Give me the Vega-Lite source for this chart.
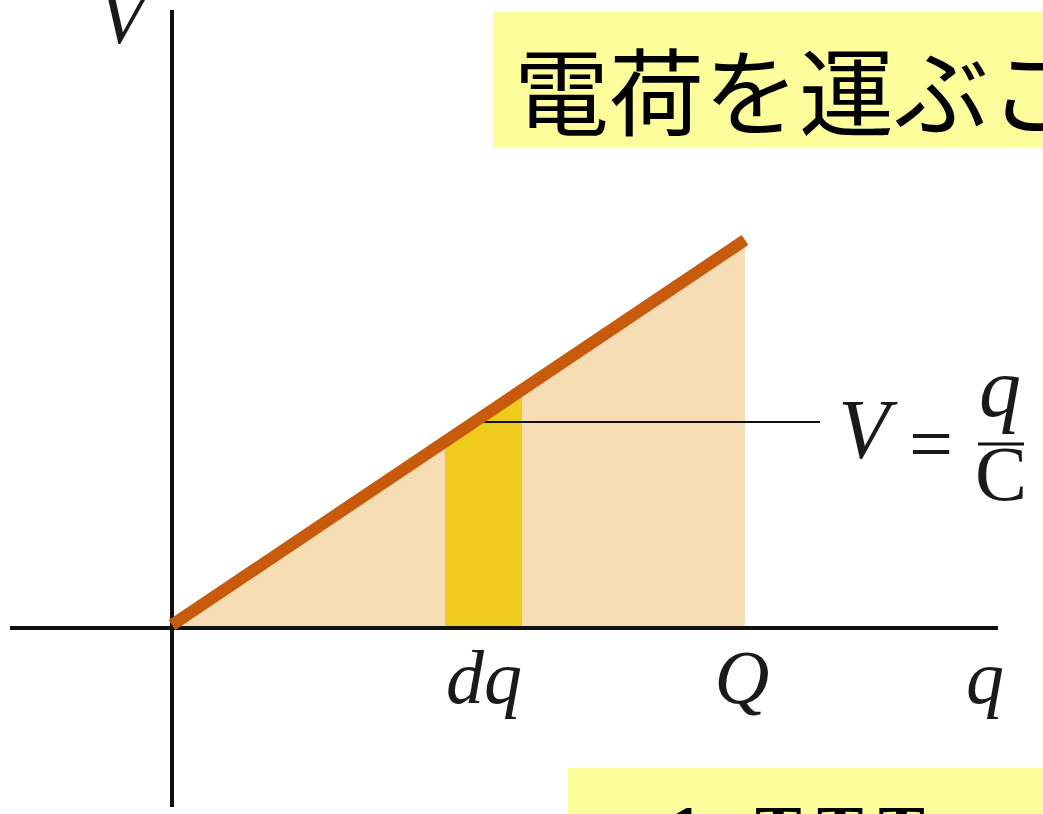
{
  "$schema": "https://vega.github.io/schema/vega-lite/v6.json",
  "width": 1043,
  "height": 814,
  "autosize": "none",
  "padding": 0,
  "background": "white",
  "config": {"view": {"stroke": null}},
  "datasets": {
    "area": [{"q": 0, "v": 0}, {"q": 573, "v": 388}],
    "strip": [{"q": 273, "v": 186.5}, {"q": 350, "v": 238.2}],
    "line": [{"q": 0, "v": 3}, {"q": 573, "v": 388}],
    "axes": [
      {"name": "vaxis", "q": 0, "q2": 0, "v": -179, "v2": 618},
      {"name": "haxis", "q": -162, "q2": 826, "v": 0, "v2": 0}
    ],
    "pointer": [{"q": 306, "q2": 648, "v": 206, "v2": 206}],
    "fracbar": [{"q": 806, "q2": 852, "v": 184, "v2": 184}],
    "boxes": [
      {"name": "top", "q": 321, "q2": 900, "v": 616, "v2": 481},
      {"name": "bottom", "q": 396, "q2": 900, "v": -140, "v2": -260}
    ],
    "labels": [
      {"label": "V", "q": -50, "v": 585},
      {"label": "dq", "q": 312, "v": -75},
      {"label": "Q", "q": 570, "v": -75},
      {"label": "q", "q": 813, "v": -75}
    ],
    "formula": [
      {"label": "V", "q": 692, "v": 170},
      {"label": "q", "q": 828, "v": 212}
    ],
    "upright": [
      {"label": "=", "q": 759, "v": 158},
      {"label": "C", "q": 829, "v": 128}
    ],
    "jp": [{"label": "電荷を運ぶこと", "q": 342, "v": 528}],
    "bottomtext": [
      {"label": "1", "q": 496, "v": -226},
      {"label": "T T T", "q": 583, "v": -226}
    ]
  },
  "layer": [
    {
      "data": {"name": "boxes"},
      "mark": {"type": "rect", "color": "#FEFD9B"},
      "encoding": {
        "x": {"field": "q", "type": "quantitative", "scale": {"domain": [-172, 871], "nice": false, "zero": false}, "axis": null},
        "x2": {"field": "q2"},
        "y": {"field": "v", "type": "quantitative", "scale": {"domain": [-186, 628], "nice": false, "zero": false}, "axis": null},
        "y2": {"field": "v2"}
      }
    },
    {
      "data": {"name": "area"},
      "mark": {"type": "area", "color": "#F7DDB4", "opacity": 1},
      "encoding": {
        "x": {"field": "q", "type": "quantitative", "scale": {"domain": [-172, 871], "nice": false, "zero": false}, "axis": null},
        "y": {"field": "v", "type": "quantitative", "scale": {"domain": [-186, 628], "nice": false, "zero": false}, "axis": null},
        "y2": {"datum": 0}
      }
    },
    {
      "data": {"name": "strip"},
      "mark": {"type": "area", "color": "#EFCB1E", "opacity": 1},
      "encoding": {
        "x": {"field": "q", "type": "quantitative", "scale": {"domain": [-172, 871], "nice": false, "zero": false}, "axis": null},
        "y": {"field": "v", "type": "quantitative", "scale": {"domain": [-186, 628], "nice": false, "zero": false}, "axis": null},
        "y2": {"datum": 0}
      }
    },
    {
      "data": {"name": "axes"},
      "mark": {"type": "rule", "color": "#111111", "strokeWidth": 4},
      "encoding": {
        "x": {"field": "q", "type": "quantitative", "scale": {"domain": [-172, 871], "nice": false, "zero": false}, "axis": null},
        "x2": {"field": "q2"},
        "y": {"field": "v", "type": "quantitative", "scale": {"domain": [-186, 628], "nice": false, "zero": false}, "axis": null},
        "y2": {"field": "v2"}
      }
    },
    {
      "data": {"name": "pointer"},
      "mark": {"type": "rule", "color": "#111111", "strokeWidth": 2},
      "encoding": {
        "x": {"field": "q", "type": "quantitative", "scale": {"domain": [-172, 871], "nice": false, "zero": false}, "axis": null},
        "x2": {"field": "q2"},
        "y": {"field": "v", "type": "quantitative", "scale": {"domain": [-186, 628], "nice": false, "zero": false}, "axis": null},
        "y2": {"field": "v2"}
      }
    },
    {
      "data": {"name": "line"},
      "mark": {"type": "line", "color": "#C85A0C", "strokeWidth": 12, "strokeCap": "butt"},
      "encoding": {
        "x": {"field": "q", "type": "quantitative", "scale": {"domain": [-172, 871], "nice": false, "zero": false}, "axis": null},
        "y": {"field": "v", "type": "quantitative", "scale": {"domain": [-186, 628], "nice": false, "zero": false}, "axis": null}
      }
    },
    {
      "data": {"name": "fracbar"},
      "mark": {"type": "rule", "color": "#111111", "strokeWidth": 3},
      "encoding": {
        "x": {"field": "q", "type": "quantitative", "scale": {"domain": [-172, 871], "nice": false, "zero": false}, "axis": null},
        "x2": {"field": "q2"},
        "y": {"field": "v", "type": "quantitative", "scale": {"domain": [-186, 628], "nice": false, "zero": false}, "axis": null},
        "y2": {"field": "v2"}
      }
    },
    {
      "data": {"name": "labels"},
      "mark": {"type": "text", "font": "Liberation Serif", "fontStyle": "italic", "fontSize": 76, "color": "#1a1a1a", "align": "center", "baseline": "alphabetic"},
      "encoding": {
        "x": {"field": "q", "type": "quantitative", "scale": {"domain": [-172, 871], "nice": false, "zero": false}, "axis": null},
        "y": {"field": "v", "type": "quantitative", "scale": {"domain": [-186, 628], "nice": false, "zero": false}, "axis": null},
        "text": {"field": "label"}
      }
    },
    {
      "data": {"name": "formula"},
      "mark": {"type": "text", "font": "Liberation Serif", "fontStyle": "italic", "fontSize": 84, "color": "#1a1a1a", "align": "center", "baseline": "alphabetic"},
      "encoding": {
        "x": {"field": "q", "type": "quantitative", "scale": {"domain": [-172, 871], "nice": false, "zero": false}, "axis": null},
        "y": {"field": "v", "type": "quantitative", "scale": {"domain": [-186, 628], "nice": false, "zero": false}, "axis": null},
        "text": {"field": "label"}
      }
    },
    {
      "data": {"name": "upright"},
      "mark": {"type": "text", "font": "Liberation Serif", "fontSize": 78, "color": "#1a1a1a", "align": "center", "baseline": "alphabetic"},
      "encoding": {
        "x": {"field": "q", "type": "quantitative", "scale": {"domain": [-172, 871], "nice": false, "zero": false}, "axis": null},
        "y": {"field": "v", "type": "quantitative", "scale": {"domain": [-186, 628], "nice": false, "zero": false}, "axis": null},
        "text": {"field": "label"}
      }
    },
    {
      "data": {"name": "jp"},
      "mark": {"type": "text", "font": "Noto Sans CJK JP", "fontSize": 95, "color": "#000000", "align": "left", "baseline": "middle"},
      "encoding": {
        "x": {"field": "q", "type": "quantitative", "scale": {"domain": [-172, 871], "nice": false, "zero": false}, "axis": null},
        "y": {"field": "v", "type": "quantitative", "scale": {"domain": [-186, 628], "nice": false, "zero": false}, "axis": null},
        "text": {"field": "label"}
      }
    },
    {
      "data": {"name": "bottomtext"},
      "mark": {"type": "text", "font": "Liberation Serif", "fontWeight": "bold", "fontSize": 70, "color": "#000000", "align": "left", "baseline": "alphabetic"},
      "encoding": {
        "x": {"field": "q", "type": "quantitative", "scale": {"domain": [-172, 871], "nice": false, "zero": false}, "axis": null},
        "y": {"field": "v", "type": "quantitative", "scale": {"domain": [-186, 628], "nice": false, "zero": false}, "axis": null},
        "text": {"field": "label"}
      }
    }
  ]
}
